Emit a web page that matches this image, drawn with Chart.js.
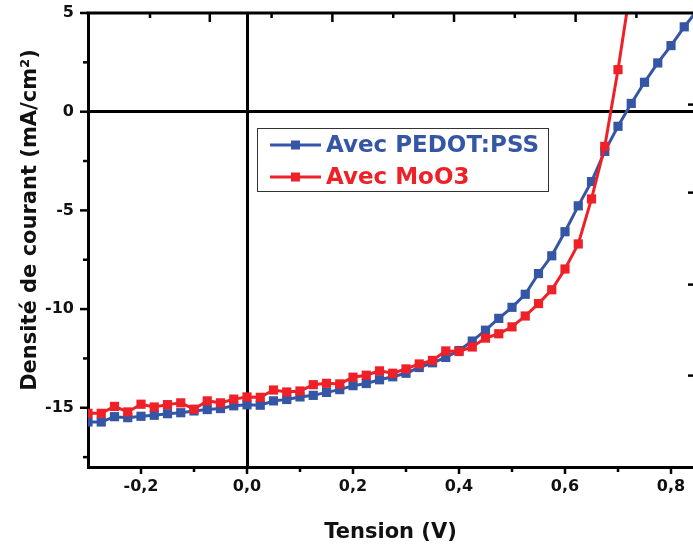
<!DOCTYPE html>
<html>
<head>
<meta charset="utf-8">
<script src="https://cdn.jsdelivr.net/npm/chart.js@4"></script>
<style>
  html, body { margin: 0; padding: 0; background: #fff; }
</style>
</head>
<body>
<canvas id="jvChart" width="693" height="547"></canvas>
<script>

// tension (V), every 0.025 V
var tension = [
  -0.3, -0.275, -0.25, -0.225, -0.2, -0.175, -0.15, -0.125, -0.1, -0.075,
  -0.05, -0.025, 0, 0.025, 0.05, 0.075, 0.1, 0.125, 0.15, 0.175,
  0.2, 0.225, 0.25, 0.275, 0.3, 0.325, 0.35, 0.375, 0.4, 0.425,
  0.45, 0.475, 0.5, 0.525, 0.55, 0.575, 0.6, 0.625, 0.65, 0.675,
  0.7, 0.725, 0.75, 0.775, 0.8, 0.825, 0.85
];

// densite de courant (mA/cm2)
var pedotPss = [
  -15.72, -15.72, -15.45, -15.5, -15.43, -15.38, -15.3, -15.25, -15.16, -15.09,
  -15.04, -14.9, -14.85, -14.87, -14.65, -14.58, -14.45, -14.37, -14.22, -14.08,
  -13.88, -13.77, -13.58, -13.43, -13.25, -12.96, -12.72, -12.45, -12.1, -11.62,
  -11.07, -10.47, -9.91, -9.25, -8.2, -7.3, -6.08, -4.77, -3.54, -2.01,
  -0.74, 0.42, 1.49, 2.47, 3.35, 4.3, 5.15
];

var moo3 = [
  -15.28, -15.28, -14.93, -15.21, -14.82, -14.96, -14.84, -14.75, -15.07, -14.65,
  -14.75, -14.56, -14.45, -14.47, -14.1, -14.2, -14.15, -13.83, -13.76, -13.79,
  -13.45, -13.35, -13.13, -13.25, -13.03, -12.78, -12.6, -12.12, -12.15, -11.92,
  -11.47, -11.25, -10.9, -10.35, -9.72, -9.02, -7.97, -6.7, -4.42, -1.76,
  2.13, 6.5
];

var seriesNames = ["Avec PEDOT:PSS", "Avec MoO3"];
var seriesColors = ["#3555a5", "#ee2028"];

var xMin = -0.3;
var xMax = 0.8415;
var yMin = -18;
var yMax = 5;

var xMajorTicks = [-0.2, 0, 0.2, 0.4, 0.6, 0.8];
var xMinorTicks = [-0.1, 0.1, 0.3, 0.5, 0.7];
var yMajorTicks = [-15, -10, -5, 0, 5];
var yMinorTicks = [-17.5, -12.5, -7.5, -2.5, 2.5];

// marks of the mirrored top axis and the clipped right axis
var topMajorTicks = [-0.0702, 0.1611, 0.3906, 0.62];
var topMinorTicks = [-0.183, 0.0464, 0.2759, 0.5053, 0.7347];
var rightMajorTicks = [0.36, -4.1, -8.76, -13.37];

var xTitle = "Tension (V)";
var yTitle = "Densité de courant (mA/cm²)";

var FONT = "'DejaVu Sans', sans-serif";

function toPoints(xs, ys) {
  var pts = [];
  for (var i = 0; i < ys.length; i++) {
    pts.push({ x: xs[i], y: ys[i] });
  }
  return pts;
}

function isIn(list, v) {
  return list.some(function(t) { return Math.abs(t - v) < 1e-9; });
}

function sortedTicks(a, b) {
  return a.concat(b).sort(function(p, q) { return p - q; }).map(function(v) { return { value: v }; });
}

var framePlugin = {
  id: 'frame',
  afterDatasetsDraw: function(chart) {
    var ctx = chart.ctx;
    var area = chart.chartArea;
    var xs = chart.scales.x;
    var ys = chart.scales.y;

    function seg(x1, y1, x2, y2) {
      ctx.beginPath();
      ctx.moveTo(x1, y1);
      ctx.lineTo(x2, y2);
      ctx.stroke();
    }

    ctx.save();
    ctx.strokeStyle = "#000";
    ctx.lineWidth = 3;
    seg(area.left - 1.5, area.top, area.right, area.top);

    ctx.lineWidth = 2.5;
    xMajorTicks.forEach(function(v) {
      var px = xs.getPixelForValue(v);
      seg(px, area.bottom, px, area.bottom + 7);
    });
    xMinorTicks.forEach(function(v) {
      var px = xs.getPixelForValue(v);
      seg(px, area.bottom, px, area.bottom + 5);
    });
    topMajorTicks.forEach(function(v) {
      var px = xs.getPixelForValue(v);
      seg(px, area.top, px, area.top + 9);
    });
    topMinorTicks.forEach(function(v) {
      var px = xs.getPixelForValue(v);
      seg(px, area.top, px, area.top + 5);
    });
    yMajorTicks.forEach(function(v) {
      var py = ys.getPixelForValue(v);
      seg(area.left - 8, py, area.left, py);
    });
    yMinorTicks.forEach(function(v) {
      var py = ys.getPixelForValue(v);
      seg(area.left - 5, py, area.left, py);
    });
    rightMajorTicks.forEach(function(v) {
      var py = ys.getPixelForValue(v);
      seg(area.right - 5, py, area.right, py);
    });
    ctx.restore();
  },
  afterDraw: function(chart) {
    var ctx = chart.ctx;
    var area = chart.chartArea;

    ctx.save();
    ctx.fillStyle = "#111";
    ctx.font = "bold 21px " + FONT;
    ctx.textAlign = "center";
    ctx.textBaseline = "alphabetic";
    ctx.fillText(xTitle, (area.left + area.right) / 2, 538);

    ctx.translate(36, 220);
    ctx.rotate(-Math.PI / 2);
    ctx.fillText(yTitle, 0, 0);
    ctx.restore();

    // legend box
    ctx.save();
    ctx.strokeStyle = "#333";
    ctx.lineWidth = 1;
    ctx.strokeRect(257.5, 128.5, 291, 63);
    ctx.font = "bold 23px " + FONT;
    ctx.textAlign = "left";
    ctx.textBaseline = "middle";
    var rows = [145, 177];
    for (var i = 0; i < seriesNames.length; i++) {
      var y = rows[i];
      ctx.strokeStyle = seriesColors[i];
      ctx.fillStyle = seriesColors[i];
      ctx.lineWidth = 3;
      ctx.beginPath();
      ctx.moveTo(270, y);
      ctx.lineTo(321, y);
      ctx.stroke();
      ctx.fillRect(291, y - 4.5, 9, 9);
      ctx.fillText(seriesNames[i], 326, y + 1);
    }
    ctx.restore();
  }
};

function zeroColor(c) {
  return c.tick && c.tick.value === 0 ? "#000" : "rgba(0,0,0,0)";
}
function zeroWidth(c) {
  return c.tick && c.tick.value === 0 ? 3 : 0;
}

var ctx = document.getElementById('jvChart').getContext('2d');
var chart = new Chart(ctx, {
  type: 'line',
  data: {
    datasets: [{
      label: seriesNames[0],
      data: toPoints(tension, pedotPss),
      borderColor: seriesColors[0],
      backgroundColor: seriesColors[0],
      borderWidth: 3,
      pointStyle: 'rect',
      pointRadius: 6.5,
      pointBorderWidth: 0,
      tension: 0,
      order: 1
    }, {
      label: seriesNames[1],
      data: toPoints(tension, moo3),
      borderColor: seriesColors[1],
      backgroundColor: seriesColors[1],
      borderWidth: 3,
      pointStyle: 'rect',
      pointRadius: 6.5,
      pointBorderWidth: 0,
      tension: 0,
      order: 0
    }]
  },
  options: {
    responsive: false,
    animation: false,
    devicePixelRatio: 1,
    layout: {
      autoPadding: false,
      padding: { left: 0, top: 13, right: 0, bottom: 0 }
    },
    plugins: {
      legend: { display: false },
      tooltip: { enabled: false }
    },
    scales: {
      x: {
        type: 'linear',
        min: xMin,
        max: xMax,
        afterBuildTicks: function(scale) {
          scale.ticks = sortedTicks(xMajorTicks, xMinorTicks);
        },
        afterFit: function(scale) {
          scale.height = 80;
          scale.paddingLeft = 0;
          scale.paddingRight = 0;
        },
        border: { color: "#000", width: 3 },
        grid: { drawTicks: false, color: zeroColor, lineWidth: zeroWidth },
        ticks: {
          autoSkip: false,
          maxRotation: 0,
          padding: 10,
          color: "#111",
          font: { family: FONT, size: 16, weight: 'bold' },
          callback: function(v) {
            return isIn(xMajorTicks, v) ? v.toFixed(1).replace('.', ',') : '';
          }
        }
      },
      y: {
        type: 'linear',
        min: yMin,
        max: yMax,
        afterBuildTicks: function(scale) {
          scale.ticks = sortedTicks(yMajorTicks, yMinorTicks);
        },
        afterFit: function(scale) {
          scale.width = 88;
          scale.paddingTop = 0;
          scale.paddingBottom = 0;
        },
        border: { color: "#000", width: 3 },
        grid: { drawTicks: false, color: zeroColor, lineWidth: zeroWidth },
        ticks: {
          autoSkip: false,
          padding: 14,
          color: "#111",
          font: { family: FONT, size: 16, weight: 'bold' },
          callback: function(v) {
            return isIn(yMajorTicks, v) ? String(v) : '';
          }
        }
      }
    }
  },
  plugins: [framePlugin]
});

</script>
</body>
</html>
